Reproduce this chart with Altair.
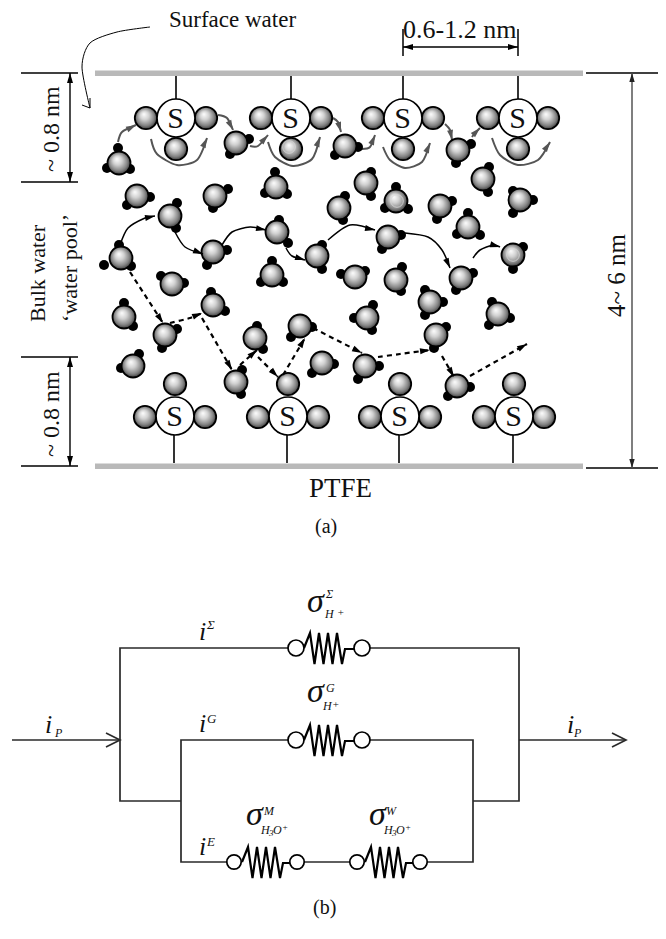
import math
import altair as alt
import pandas as pd

SERIF = "Liberation Serif"

# --- part (a): surface groups (x of S centre)
TOP_S_X = [176, 291, 403, 518]
TOP_S_Y = 118
BOTTOM_S_X = [175, 288, 400, 514]
BOTTOM_S_Y = 416
PLATE_X = [95, 583]
PLATE_TOP_Y = [70.5, 76]
PLATE_BOTTOM_Y = [463.5, 469]

# water molecules: oxygen position and hydrogen positions
WATER = [
    (119, 163, [(118, 148), (107, 168), (130, 169)]),
    (236, 143, [(249, 139), (230, 154)]),
    (345, 146, [(358, 147), (335, 155)]),
    (458, 150, [(471, 144), (456, 163)]),
    (137, 196, [(150, 197), (127, 205)]),
    (215, 196, [(228, 189), (213, 208)]),
    (276, 187, [(275, 172), (265, 193), (287, 194)]),
    (170, 216, [(177, 203), (176, 228)]),
    (277, 232, [(279, 220), (288, 243)]),
    (213, 252, [(227, 250), (207, 265)]),
    (121, 258, [(119, 245), (104, 265), (131, 266)]),
    (172, 284, [(161, 276), (184, 283)]),
    (124, 317, [(124, 303), (133, 326)]),
    (165, 335, [(177, 329), (162, 348)]),
    (213, 305, [(211, 292), (225, 311)]),
    (133, 366, [(139, 354), (121, 368)]),
    (272, 275, [(272, 261), (261, 282), (283, 282)]),
    (317, 256, [(322, 245), (322, 269)]),
    (255, 338, [(257, 326), (263, 349)]),
    (236, 382, [(242, 370), (241, 394)]),
    (300, 326, [(312, 327), (291, 337)]),
    (322, 363, [(334, 364), (312, 373)]),
    (366, 183, [(371, 172), (371, 196)]),
    (339, 208, [(345, 196), (343, 220)]),
    (396, 201, [(396, 187), (385, 208), (408, 209)]),
    (440, 206, [(452, 201), (437, 219)]),
    (483, 179, [(489, 167), (488, 192)]),
    (520, 200, [(513, 191), (533, 200), (513, 213)]),
    (468, 227, [(468, 213), (457, 234), (480, 235)]),
    (388, 237, [(401, 235), (382, 249)]),
    (513, 255, [(523, 247), (513, 269)]),
    (355, 277, [(341, 274), (365, 271)]),
    (396, 280, [(402, 267), (401, 291)]),
    (461, 278, [(473, 273), (456, 290)]),
    (430, 302, [(425, 290), (443, 302), (425, 315)]),
    (367, 318, [(373, 305), (354, 318), (372, 330)]),
    (498, 314, [(492, 302), (510, 318), (489, 325)]),
    (436, 335, [(446, 327), (434, 348)]),
    (365, 366, [(379, 366), (358, 379)]),
    (457, 386, [(470, 387), (448, 396)]),
]
HIGHLIGHTS = [(397, 201, 6.5), (513, 255, 6.5), (289, 147, 6)]

GRAY_ARROWS = [
    [(118, 142), (122, 132), (136, 125)],
    [(218, 115), (227, 118), (233, 130)],
    [(151, 139), (157, 154), (177, 165), (197, 160), (207, 138)],
    [(250, 146), (258, 146), (268, 135)],
    [(268, 142), (275, 157), (293, 166), (312, 159), (320, 137)],
    [(333, 118), (338, 122), (341, 132)],
    [(362, 149), (370, 147), (375, 135)],
    [(383, 147), (390, 160), (405, 168), (422, 162), (430, 143)],
    [(445, 124), (450, 130), (452, 140)],
    [(472, 137), (475, 133), (480, 128)],
    [(492, 138), (500, 155), (518, 165), (538, 160), (550, 142)],
]
BLACK_ARROWS = [
    [(120, 245), (128, 228), (145, 218), (155, 216)],
    [(175, 232), (185, 247), (203, 254)],
    [(222, 245), (232, 232), (250, 227), (266, 230)],
    [(286, 248), (292, 256), (305, 260)],
    [(328, 240), (350, 225), (375, 230)],
    [(405, 233), (428, 237), (442, 250), (450, 268)],
    [(473, 258), (480, 250), (493, 245), (500, 247)],
]
DASHED_ARROWS = [
    [(130, 272), (163, 323)],
    [(170, 323), (190, 318), (202, 313)],
    [(202, 318), (232, 370)],
    [(240, 365), (257, 350)],
    [(258, 357), (278, 377)],
    [(283, 375), (305, 338)],
    [(313, 328), (362, 353)],
    [(378, 357), (400, 354), (430, 350)],
    [(442, 356), (454, 377)],
    [(470, 376), (527, 344)],
]
SURFACE_POINTER = [(150, 27), (117, 32), (90, 43), (82, 67), (90, 108)]
SURFACE_POINTER_HEAD = [(82, 105), (90, 108), (90, 98)]

DIM_LINES = [
    [(21, 73), (78, 73)], [(21, 182), (78, 182)],
    [(21, 357), (78, 357)], [(21, 466), (78, 466)],
    [(586, 73), (666, 73)], [(586, 468), (666, 468)],
    [(403, 29), (403, 56)], [(518, 29), (518, 56)],
]
DIM_ARROWS_BLACK = [
    [(70, 73), (70, 182)], [(70, 357), (70, 466)], [(403, 47), (518, 47)],
]
DIM_ARROWS_GRAY = [[(632, 73), (632, 468)]]

# --- part (b): circuit
WIRES = [
    [(370, 648), (519, 648), (519, 801), (473, 801)],
    [(288, 648), (120, 648), (120, 801), (181, 801)],
    [(288, 740), (181, 740), (181, 862), (227, 862)],
    [(370, 740), (473, 740), (473, 862), (428, 862)],
    [(304, 862), (350, 862)],
    [(12, 740), (120, 740)],
    [(519, 740), (626, 740)],
    [(106, 733), (120, 740), (106, 747)],
    [(612, 733), (626, 740), (612, 747)],
]
RINGS_LARGE = [(296, 648), (362, 648), (296, 740), (362, 740)]
RINGS_SMALL = [(234, 862), (297, 862), (357, 862), (420, 862)]
RESISTOR_DX = [8, 14, 18.5, 23, 27.5, 32, 36.5, 41, 46, 49, 58]
RESISTOR_DY = [0, -15, 16, -15, 16, -15, 16, -15, 16, 1, 1]
RESISTOR_ANCHOR = [(296, 648), (296, 740), (234, 862), (357, 862)]

# --- texts
SERIF_TEXT = [
    ("Surface water", 169, 27, 23),
    ("0.6-1.2 nm", 403, 38, 26),
    ("PTFE", 309, 497, 27),
    ("(a)", 315, 533, 20),
    ("(b)", 313, 914, 20),
]
ROTATED_TEXT = [
    ("~ 0.8 nm", 59, 172, 24),
    ("~ 0.8 nm", 59, 457, 24),
    ("Bulk water", 45, 322, 22),
    ("\u2018water pool\u2019", 77, 322, 22),
    ("4~ 6 nm", 625, 317, 25),
]
ITALIC_TEXT = [
    ("\u03c3", 307, 612, 34), ("\u03a3", 326, 598, 12), ("H", 325, 618, 12), ("+", 337, 616, 11),
    ("\u03c3", 307, 702, 34), ("G", 326, 692, 12), ("H", 323, 710, 12), ("+", 332, 708, 11),
    ("\u03c3", 246, 825, 34), ("M", 264, 815, 12), ("H", 261, 834, 12), ("3", 269, 836, 9),
    ("O", 273, 834, 12), ("+", 282, 830, 9),
    ("\u03c3", 369, 825, 34), ("W", 386, 815, 12), ("H", 384, 834, 12), ("3", 392, 836, 9),
    ("O", 396, 834, 12), ("+", 405, 830, 9),
    ("i", 199, 640, 26), ("\u03a3", 207, 629, 13),
    ("i", 199, 732, 26), ("G", 207, 723, 13),
    ("i", 199, 855, 26), ("E", 207, 846, 13),
    ("i", 45, 733, 26), ("P", 55, 737, 12),
    ("i", 567, 733, 26), ("P", 574, 737, 12),
]

# --- scales: reference picture coordinates
X = alt.X("x:Q", axis=None, scale=alt.Scale(domain=[8, 658], nice=False, zero=False))
Y = alt.Y("y:Q", axis=None, scale=alt.Scale(domain=[933, 8], nice=False, zero=False))

HEAD = "M0,0L0.6,2L-0.6,2Z"
BALL_FILL = {
    "gradient": "radial", "x1": 0.4, "y1": 0.32, "r1": 0,
    "x2": 0.5, "y2": 0.5, "r2": 0.56,
    "stops": [
        {"offset": 0, "color": "#ffffff"},
        {"offset": 0.35, "color": "#d2d2d2"},
        {"offset": 0.72, "color": "#808080"},
        {"offset": 1, "color": "#1c1c1c"},
    ],
}


def lines(paths, color="black", width=1.5, dash=None, interpolate="linear"):
    rows = [{"g": i, "o": j, "x": p[0], "y": p[1]}
            for i, path in enumerate(paths) for j, p in enumerate(path)]
    kw = dict(color=color, strokeWidth=width, interpolate=interpolate,
              strokeCap="butt", strokeJoin="miter")
    if dash:
        kw["strokeDash"] = dash
    if interpolate == "cardinal":
        kw["tension"] = 0.2
    return alt.Chart(pd.DataFrame(rows)).mark_line(**kw).encode(
        x=X, y=Y, detail="g:N", order="o:Q")


def heads(paths, color="black", length=10, both=False):
    rows = []
    for path in paths:
        ends = [(path[-2], path[-1])]
        if both:
            ends.append((path[1], path[0]))
        for a, b in ends:
            ang = math.degrees(math.atan2(b[0] - a[0], -(b[1] - a[1]))) % 360
            rows.append({"x": b[0], "y": b[1], "a": ang})
    return alt.Chart(pd.DataFrame(rows)).mark_point(
        shape=HEAD, filled=True, color=color, opacity=1, size=length ** 2
    ).encode(x=X, y=Y, angle=alt.Angle("a:Q", scale=None))


def dots(points, radius, **mark):
    df = pd.DataFrame(points, columns=["x", "y"])
    return alt.Chart(df).mark_point(
        shape="circle", opacity=1, size=4 * radius ** 2, **mark
    ).encode(x=X, y=Y)


def balls(points, radius=11):
    return dots(points, radius, filled=True, fill=BALL_FILL, stroke="black", strokeWidth=1.8)


def texts(rows, **mark):
    df = pd.DataFrame(rows, columns=["t", "x", "y", "s"])
    return alt.Chart(df).mark_text(font=SERIF, color="#111111", baseline="alphabetic", **mark).encode(
        x=X, y=Y, text="t:N", size=alt.Size("s:Q", scale=None))


def plate(ys):
    df = pd.DataFrame([{"x": PLATE_X[0], "x2": PLATE_X[1], "y": ys[0], "y2": ys[1]}])
    return alt.Chart(df).mark_rect(color="#b9b9b9").encode(x=X, x2="x2:Q", y=Y, y2="y2:Q")


top_stems = [[(x, 76), (x, 99)] for x in TOP_S_X]
bottom_stems = [[(x - 1, 435), (x - 1, 463)] for x in BOTTOM_S_X]

s_centres = [(x, TOP_S_Y) for x in TOP_S_X] + [(x, BOTTOM_S_Y) for x in BOTTOM_S_X]
s_balls = []
for x in TOP_S_X:
    s_balls += [(x - 30, TOP_S_Y), (x + 30, TOP_S_Y), (x, TOP_S_Y + 31)]
for x in BOTTOM_S_X:
    s_balls += [(x - 30, BOTTOM_S_Y + 1), (x + 30, BOTTOM_S_Y + 1), (x, BOTTOM_S_Y - 32)]
s_labels = [("S", x - 0.5, y + 10, 30) for x, y in s_centres]

oxygens = [(m[0], m[1]) for m in WATER]
hydrogens = [h for m in WATER for h in m[2]]
resistors = [[(ax + dx, ay + dy) for dx, dy in zip(RESISTOR_DX, RESISTOR_DY)]
             for ax, ay in RESISTOR_ANCHOR]

layers = [
    plate(PLATE_TOP_Y),
    plate(PLATE_BOTTOM_Y),
    lines(DIM_LINES, width=1.5),
    lines(DIM_ARROWS_BLACK, width=1.4),
    heads(DIM_ARROWS_BLACK, length=10, both=True),
    lines(DIM_ARROWS_GRAY, color="#555555", width=1.5),
    heads(DIM_ARROWS_GRAY, color="#222222", length=9, both=True),
    lines(top_stems + bottom_stems, width=1.6),
    lines([SURFACE_POINTER], width=1, interpolate="cardinal"),
    lines([SURFACE_POINTER_HEAD], width=1),
    lines(GRAY_ARROWS, color="#555555", width=2, interpolate="cardinal"),
    heads(GRAY_ARROWS, color="#555555", length=10),
    dots(hydrogens, 5, filled=True, color="black"),
    balls(oxygens, 11.5),
    balls(s_balls, 11.2),
    dots([(h[0], h[1]) for h in HIGHLIGHTS], 6.3, filled=False, color="#d8d8d8", strokeWidth=0.8),
    dots(s_centres, 19, filled=True, fill="white", stroke="black", strokeWidth=1.7),
    texts(s_labels, align="center"),
    lines(BLACK_ARROWS, width=1.5, interpolate="cardinal"),
    heads(BLACK_ARROWS, length=10),
    lines(DASHED_ARROWS, width=2.2, dash=[5, 4], interpolate="cardinal"),
    heads(DASHED_ARROWS, length=10),
    lines(WIRES, color="#2a2a2a", width=1.7),
    lines(resistors, color="black", width=2.2),
    dots(RINGS_LARGE, 8, filled=True, fill="white", stroke="black", strokeWidth=1.7),
    dots(RINGS_SMALL, 7.2, filled=True, fill="white", stroke="black", strokeWidth=1.7),
    texts(SERIF_TEXT, align="left"),
    texts(ROTATED_TEXT, align="left", angle=270),
    texts(ITALIC_TEXT, align="left", fontStyle="italic"),
]

chart = alt.layer(*layers).properties(
    width=650, height=925, padding=0, autosize="none"
).configure_view(stroke=None)

chart.save("out.html", embed_options={"renderer": "svg", "actions": False})
